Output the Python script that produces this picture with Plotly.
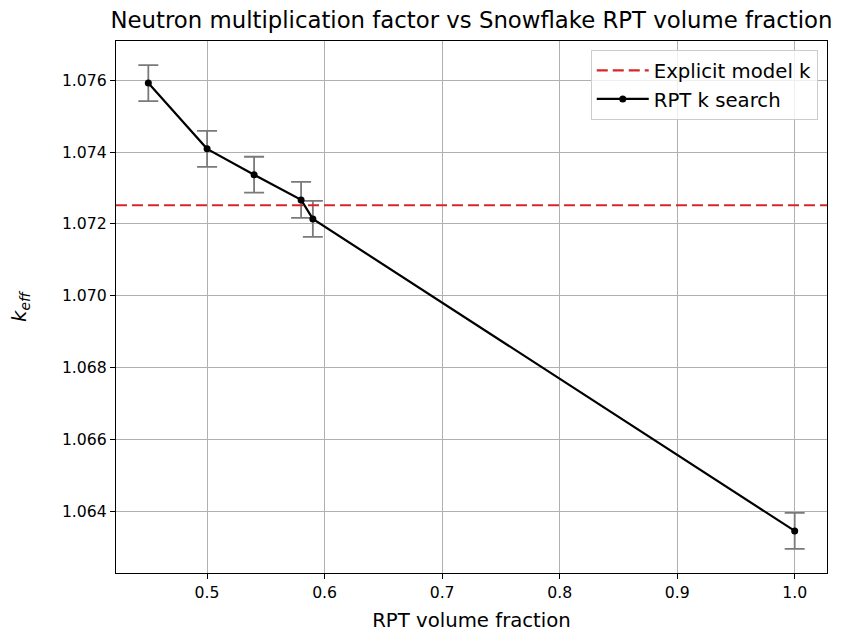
import plotly.graph_objects as go

volume_fraction = [0.45, 0.50, 0.54, 0.58, 0.59, 1.00]
k_search = [1.07592, 1.07409, 1.07337, 1.07267, 1.07214, 1.06346]
k_error = [0.0005, 0.0005, 0.0005, 0.0005, 0.0005, 0.0005]
explicit_k = 1.07252

x_ticks = [0.5, 0.6, 0.7, 0.8, 0.9, 1.0]
y_ticks = [1.064, 1.066, 1.068, 1.070, 1.072, 1.074, 1.076]

FONT = "DejaVu Sans"
TICK_SIZE = 15.7
LABEL_SIZE = 19.7
TITLE_SIZE = 22.8

# the page body adds an 8px offset, so the figure is sized to fit inside the window
W, H = 846, 624

DASH = "11px,5px"

fig = go.Figure()

fig.add_hline(y=explicit_k, line=dict(color="#d62728", width=2.2, dash=DASH), layer="above")

fig.add_trace(go.Scatter(
    x=[None], y=[None], mode="lines", name="Explicit model k",
    line=dict(color="#d62728", width=2.2, dash=DASH),
))

fig.add_trace(go.Scatter(
    x=volume_fraction, y=k_search, mode="lines+markers", name="RPT k search",
    line=dict(color="black", width=2.2),
    marker=dict(color="black", size=7),
    error_y=dict(type="data", array=k_error, visible=True, color="#7a7a7a",
                 thickness=1.8, width=10),
))

fig.update_layout(
    width=W, height=H,
    paper_bgcolor="white", plot_bgcolor="white",
    margin=dict(l=108, r=27, t=33, b=59),
    font=dict(family=FONT, size=TICK_SIZE, color="black"),
    title=dict(text="Neutron multiplication factor vs Snowflake RPT volume fraction",
               x=463.5 / W, xanchor="center", y=1 - 12 / H, yanchor="middle",
               font=dict(family=FONT, size=TITLE_SIZE, color="black")),
    legend=dict(x=0.987, xanchor="right", y=0.983, yanchor="top",
                bgcolor="rgba(255,255,255,0.8)", bordercolor="#cccccc", borderwidth=1,
                font=dict(family=FONT, size=LABEL_SIZE, color="black"),
                itemwidth=52),
    showlegend=True,
)

fig.update_xaxes(
    range=[0.4225, 1.0275], tickvals=x_ticks, ticktext=[f"{v:.1f}" for v in x_ticks],
    showgrid=True, gridcolor="#b0b0b0", gridwidth=1.1,
    showline=True, linecolor="black", linewidth=1.1, mirror=True,
    ticks="outside", ticklen=5, tickwidth=1.1, tickcolor="black",
    zeroline=False, automargin=False,
    title=dict(text="RPT volume fraction", font=dict(family=FONT, size=LABEL_SIZE), standoff=14),
)
fig.update_yaxes(
    range=[1.06229, 1.07709], tickvals=y_ticks, ticktext=[f"{v:.3f}" for v in y_ticks],
    showgrid=True, gridcolor="#b0b0b0", gridwidth=1.1,
    showline=True, linecolor="black", linewidth=1.1, mirror=True,
    ticks="outside", ticklen=5, tickwidth=1.1, tickcolor="black",
    zeroline=False, automargin=False,
    title=dict(text="<i>k</i><sub><i>eff</i></sub>", font=dict(family=FONT, size=LABEL_SIZE), standoff=30),
)

fig.write_html("out.html")
